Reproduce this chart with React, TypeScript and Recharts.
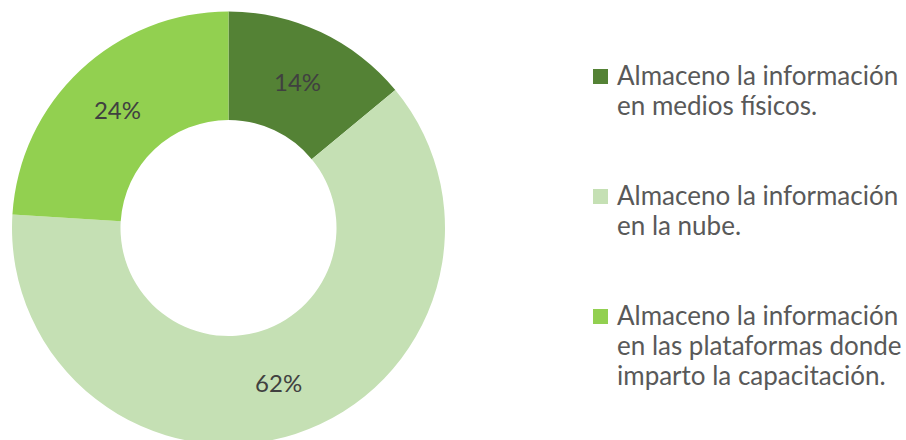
import React from "react";
import { PieChart, Pie, Cell, Legend } from "recharts";

const categories = [
  "Almaceno la información\nen medios físicos.",
  "Almaceno la información\nen la nube.",
  "Almaceno la información\nen las plataformas donde\nimparto la capacitación.",
];
const values = [14, 62, 24];
const colors = ["#548235", "#C5E0B4", "#92D050"];

const data = categories.map((name, i) => ({ name, value: values[i] }));

const RADIAN = Math.PI / 180;

const renderLabel = (props: any) => {
  const { cx, cy, midAngle, innerRadius, outerRadius, value } = props;
  const r = (innerRadius + outerRadius) / 2;
  const x = cx + r * Math.cos(-midAngle * RADIAN);
  const y = cy + r * Math.sin(-midAngle * RADIAN);
  return (
    <text
      x={x}
      y={y}
      fill="#404040"
      textAnchor="middle"
      dominantBaseline="central"
      fontFamily="Lato"
      fontSize={24}
    >
      {`${value}%`}
    </text>
  );
};

const renderLegend = (props: any) => {
  const { payload } = props;
  return (
    <div style={{ fontFamily: "Lato", fontSize: 26, color: "#595959", lineHeight: "30px" }}>
      {payload.map((entry: any, i: number) => (
        <div key={i} style={{ display: "flex", alignItems: "flex-start", marginBottom: 60 }}>
          <div style={{ width: 15, height: 15, background: entry.color, marginTop: 9, marginRight: 9, flexShrink: 0 }} />
          <div style={{ whiteSpace: "pre-line" }}>{entry.value}</div>
        </div>
      ))}
    </div>
  );
};

export default function App() {
  return (
    <div style={{ position: "absolute", left: 0, top: 0, width: 906, height: 440, background: "#fff" }}>
      <PieChart width={906} height={440} margin={{ top: 0, right: 0, bottom: 0, left: 0 }}>
        <Pie
          data={data}
          dataKey="value"
          nameKey="name"
          cx={228.5}
          cy={228}
          innerRadius={108}
          outerRadius={216.5}
          startAngle={90}
          endAngle={-270}
          stroke="none"
          label={renderLabel}
          labelLine={false}
          isAnimationActive={false}
        >
          {data.map((_, i) => (
            <Cell key={i} fill={colors[i]} />
          ))}
        </Pie>
        <Legend
          content={renderLegend}
          itemSorter={(item: any) => categories.indexOf(item.value)}
          wrapperStyle={{ position: "absolute", left: 593, top: 60, width: 313 }}
        />
      </PieChart>
    </div>
  );
}
